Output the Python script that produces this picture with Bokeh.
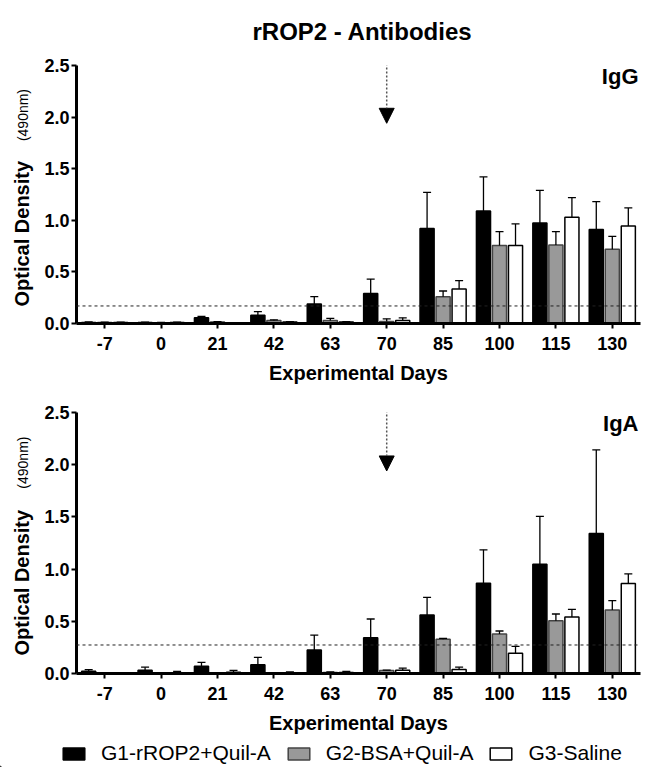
import math
from bokeh.plotting import figure
from bokeh.models import (ColumnDataSource, FactorRange, Range1d, Whisker, TeeHead, Span, Label,
                          Legend, LegendItem, Arrow, NormalHead, FixedTicker, NumeralTickFormatter)
from bokeh.transform import dodge
from bokeh.layouts import column, row
from bokeh.embed import file_html
from bokeh.resources import INLINE

# ---------------- data ----------------
days = ["-7", "0", "21", "42", "63", "70", "85", "100", "115", "130"]
groups = ["G1-rROP2+Quil-A", "G2-BSA+Quil-A", "G3-Saline"]

igg_g1 = [0.010, 0.010, 0.055, 0.080, 0.190, 0.290, 0.920, 1.090, 0.975, 0.910]
igg_g1_err = [0.005, 0.003, 0.015, 0.035, 0.070, 0.140, 0.350, 0.330, 0.315, 0.270]
igg_g2 = [0.010, 0.008, 0.015, 0.030, 0.030, 0.020, 0.260, 0.755, 0.760, 0.720]
igg_g2_err = [0.003, 0.002, 0.004, 0.006, 0.020, 0.025, 0.055, 0.135, 0.130, 0.125]
igg_g3 = [0.010, 0.010, 0.005, 0.015, 0.015, 0.030, 0.335, 0.755, 1.030, 0.945]
igg_g3_err = [0.003, 0.003, 0.002, 0.004, 0.004, 0.025, 0.080, 0.210, 0.190, 0.175]

iga_g1 = [0.022, 0.032, 0.070, 0.083, 0.224, 0.343, 0.560, 0.865, 1.047, 1.342]
iga_g1_err = [0.016, 0.029, 0.036, 0.071, 0.144, 0.179, 0.170, 0.320, 0.458, 0.800]
iga_g2 = [0.000, 0.000, 0.005, 0.005, 0.010, 0.029, 0.327, 0.378, 0.506, 0.608]
iga_g2_err = [0.000, 0.000, 0.002, 0.002, 0.005, 0.003, 0.009, 0.029, 0.064, 0.090]
iga_g3 = [0.000, 0.005, 0.013, 0.008, 0.010, 0.032, 0.038, 0.195, 0.541, 0.861]
iga_g3_err = [0.000, 0.015, 0.017, 0.007, 0.010, 0.019, 0.023, 0.065, 0.074, 0.093]

cutoff_igg = 0.17
cutoff_iga = 0.273
booster_day = "70"
arrow_top = 2.52
arrow_tip = 1.94
tag_y = 2.39
y_ticks = [0, 0.5, 1.0, 1.5, 2.0, 2.5]
y_max = 2.5
ylab_main_y = 0.87     # centre of "Optical Density" along the value axis
ylab_unit_y = 2.02     # centre of "(490nm)"

FONT = "Liberation Sans"
fills = ["black", "#999999", "white"]
lines = ["black", "#444444", "black"]
offsets = [-0.284, 0.0, 0.284]
BAR_W = 0.25

LAB_W = 34      # width of the strip that holds the y-axis titles
MAIN_W = 607
FULL_W = LAB_W + MAIN_W


def text_fig(w, h, y_range=None):
    f = figure(width=w, height=h, x_range=Range1d(0, w),
               y_range=y_range if y_range is not None else Range1d(0, h),
               output_backend="svg", toolbar_location=None, x_axis_type=None, y_axis_type=None,
               min_border=0, min_border_left=0, min_border_right=0, min_border_top=0,
               min_border_bottom=0)
    f.outline_line_color = None
    f.xgrid.visible = False
    f.ygrid.visible = False
    f.background_fill_color = "white"
    f.border_fill_color = "white"
    return f


def ylabel_fig(h):
    # its frame lines up with the neighbouring panel's frame, so it shares the value range
    f = text_fig(LAB_W, h, y_range=Range1d(0, y_max))
    f.add_layout(Label(x=21, y=ylab_main_y, angle=math.pi / 2, text="Optical Density",
                       text_font=FONT, text_font_style="bold", text_font_size="20px",
                       text_align="center", text_baseline="middle", text_color="black"))
    f.add_layout(Label(x=22, y=ylab_unit_y, angle=math.pi / 2, text="(490nm)",
                       text_font=FONT, text_font_style="normal", text_font_size="14px",
                       text_align="center", text_baseline="middle", text_color="black"))
    return f


def make_panel(series, errs, cutoff, tag, height, b_top, b_bottom):
    data = {"day": days}
    for i, (v, e) in enumerate(zip(series, errs)):
        data[f"v{i}"] = v
        data[f"u{i}"] = [a + b for a, b in zip(v, e)]
    src = ColumnDataSource(data)

    p = figure(x_range=FactorRange(*days), y_range=Range1d(0, y_max),
               width=MAIN_W, height=height, output_backend="svg", toolbar_location=None,
               min_border_left=42, min_border_right=1, min_border_top=b_top,
               min_border_bottom=b_bottom)
    p.outline_line_color = None
    p.xgrid.visible = False
    p.ygrid.visible = False
    p.background_fill_color = "white"
    p.border_fill_color = "white"

    for i in range(3):
        p.vbar(x=dodge("day", offsets[i], range=p.x_range), top=f"v{i}", width=BAR_W,
               source=src, fill_color=fills[i], line_color=lines[i], line_width=1.5)
        w = Whisker(source=src, base=dodge("day", offsets[i], range=p.x_range),
                    lower=f"v{i}", upper=f"u{i}", dimension="height",
                    line_color="black", line_width=1.3,
                    upper_head=TeeHead(size=8, line_color="black", line_width=1.3),
                    lower_head=None, level="annotation")
        p.add_layout(w)

    p.add_layout(Span(location=cutoff, dimension="width", line_dash="3 3",
                      line_color="#222222", line_width=1))

    xa = days.index(booster_day) + 0.5
    p.add_layout(Arrow(x_start=xa, y_start=arrow_top, x_end=xa, y_end=arrow_tip,
                       line_color="#555555", line_width=1.5, line_dash="2 2",
                       end=NormalHead(size=15, fill_color="black", line_color="black")))

    for ax in (p.xaxis[0], p.yaxis[0]):
        ax.axis_line_width = 3
        ax.axis_line_color = "black"
        ax.major_tick_line_width = 2
        ax.major_tick_out = 5
        ax.major_tick_in = 0
        ax.minor_tick_line_color = None
        ax.major_label_text_font = FONT
        ax.major_label_text_font_style = "bold"
        ax.major_label_text_font_size = "18px"
        ax.major_label_text_color = "black"
    p.xaxis.major_label_standoff = 8
    p.xaxis.axis_label = "Experimental Days"
    p.xaxis.axis_label_text_font = FONT
    p.xaxis.axis_label_text_font_style = "bold"
    p.xaxis.axis_label_text_font_size = "20px"
    p.xaxis.axis_label_text_color = "black"
    p.xaxis.axis_label_standoff = 9
    p.yaxis.ticker = FixedTicker(ticks=y_ticks)
    p.yaxis.formatter = NumeralTickFormatter(format="0.0")
    p.yaxis.major_label_standoff = 2

    p.add_layout(Label(x=562, y=tag_y, x_units="screen", y_units="data", text=tag,
                       text_font=FONT, text_font_style="bold", text_font_size="22px",
                       text_align="right", text_baseline="middle", text_color="black"))
    return p


# title strip
title_fig = text_fig(FULL_W, 50)
title_fig.add_layout(Label(x=362, y=19, text="rROP2 - Antibodies", text_font=FONT,
                           text_font_style="bold", text_font_size="24px", text_align="center",
                           text_baseline="middle", text_color="black"))

H1 = 336
H2 = 353
p1 = make_panel([igg_g1, igg_g2, igg_g3], [igg_g1_err, igg_g2_err, igg_g3_err], cutoff_igg,
                "IgG", H1, 15, 62)
p2 = make_panel([iga_g1, iga_g2, iga_g3], [iga_g1_err, iga_g2_err, iga_g3_err], cutoff_iga,
                "IgA", H2, 26, 66)

lab1 = ylabel_fig(H1)
lab2 = ylabel_fig(H2)

# legend strip: proxy renderers carry the group styles; their single point lies off-range
leg_fig = text_fig(FULL_W, 28)
proxies = []
for i in range(3):
    proxies.append(leg_fig.vbar(x=[-100], top=[1], width=1, fill_color=fills[i],
                                line_color=lines[i], line_width=1.5))
lg = Legend(items=[LegendItem(label=g, renderers=[r]) for g, r in zip(groups, proxies)],
            orientation="horizontal", location=(60, 2),
            label_text_font=FONT, label_text_font_size="21px", label_text_color="black",
            glyph_width=27, glyph_height=15, label_standoff=14, spacing=14,
            padding=0, margin=0, border_line_color=None, background_fill_alpha=0)
leg_fig.add_layout(lg)

p = column(title_fig, row(lab1, p1), row(lab2, p2), leg_fig)
open("out.html", "w").write(file_html(p, INLINE))
